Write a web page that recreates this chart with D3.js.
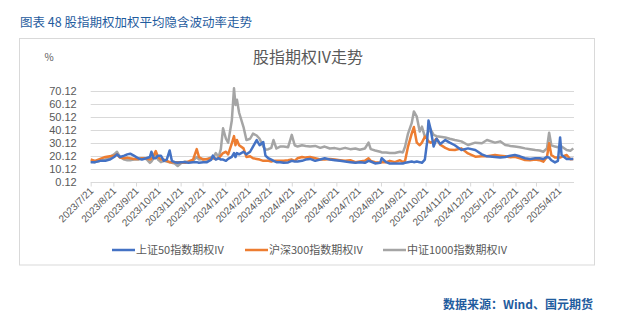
<!DOCTYPE html>
<html><head><meta charset="utf-8">
<script src="https://cdn.jsdelivr.net/npm/d3@7"></script>
<style>
body{margin:0;background:#fff;}
svg{display:block;font-family:"Noto Sans CJK SC","Microsoft YaHei",sans-serif;}
</style></head>
<body><svg id="c" width="633" height="336"></svg>
<script>
const dates = ["2023-07-21","2023-07-27","2023-08-03","2023-08-10","2023-08-16","2023-08-22","2023-08-26","2023-08-30","2023-09-05","2023-09-09","2023-09-13","2023-09-18","2023-09-24","2023-09-29","2023-10-05","2023-10-10","2023-10-12","2023-10-15","2023-10-18","2023-10-21","2023-10-25","2023-10-29","2023-11-02","2023-11-06","2023-11-09","2023-11-13","2023-11-17","2023-11-21","2023-11-27","2023-12-02","2023-12-08","2023-12-13","2023-12-16","2023-12-22","2023-12-27","2024-01-02","2024-01-04","2024-01-08","2024-01-12","2024-01-15","2024-01-18","2024-01-22","2024-01-25","2024-01-30","2024-02-02","2024-02-04","2024-02-06","2024-02-09","2024-02-15","2024-02-19","2024-02-24","2024-02-28","2024-03-04","2024-03-08","2024-03-13","2024-03-16","2024-03-20","2024-03-24","2024-03-27","2024-03-31","2024-04-05","2024-04-10","2024-04-16","2024-04-21","2024-04-25","2024-04-29","2024-05-05","2024-05-10","2024-05-16","2024-05-23","2024-05-30","2024-06-05","2024-06-12","2024-06-19","2024-06-26","2024-07-03","2024-07-10","2024-07-17","2024-07-23","2024-07-30","2024-08-04","2024-08-07","2024-08-13","2024-08-20","2024-08-22","2024-08-28","2024-09-02","2024-09-09","2024-09-16","2024-09-20","2024-09-23","2024-09-27","2024-10-02","2024-10-05","2024-10-09","2024-10-13","2024-10-16","2024-10-20","2024-10-23","2024-10-25","2024-10-28","2024-11-01","2024-11-05","2024-11-10","2024-11-17","2024-11-23","2024-11-30","2024-12-09","2024-12-18","2024-12-28","2025-01-06","2025-01-13","2025-01-24","2025-01-31","2025-02-07","2025-02-14","2025-02-20","2025-02-27","2025-03-06","2025-03-13","2025-03-20","2025-03-26","2025-03-31","2025-04-05","2025-04-08","2025-04-11","2025-04-16","2025-04-20","2025-04-23","2025-04-25","2025-05-02","2025-05-07","2025-05-11"];
const sz50 = [15,15,16,16,17,19,21,19,20,21,21.5,20,18,17,18,19,23,18,18,20,20,16,17,24,16,15,14.5,15,15,14.5,15,15,14.5,15,15,17,20,17,18,17,17,16,17.5,19,22,19,22,21,23,21,23,27,32,28,30.5,20,18,17,16,15,15,14.5,14.8,16,15.5,15.5,16,17,17.5,16,17,18,17,16.5,16,15.5,15,14.5,15,14.5,16,15.5,14,14.5,18,15,14,14,14,14,14.5,15,15.5,15,15.5,15,14.5,17,30,47,40,27,33,29,32,30,28,24.3,25.6,24.3,21,19.5,19,18.5,19,20,20.5,19.5,18,17.5,18,18,17.4,19,18.5,16.5,14.8,16,34,20.5,17.4,17.4,17.4];
const hs300 = [17,16,17.5,19,19.5,20,21,18.5,18,18.5,18,17.5,17.5,18,18,17,17.5,20,23.5,19,17,17,16,15,15,15,15,15,14.5,15.5,17,25,19,17,17.5,18,18,17.5,18,20,22,23,21,29.5,35,28,32,28,25.6,19,19.5,18,17.5,17,16,16,16,15.5,16,16,16,16,16.5,17,16,18,19,18.5,19,18,17,17,17.5,17,16.5,16,16.5,15,15.5,16,18,16,15,14.5,15,15,16,15,16.5,15,16,27,37,42,30,28,30,34.6,33,31,30,31,33,28.5,26,24.5,24.3,25.6,21.7,19.2,19.5,19.5,20.5,20,19.5,18.8,19.2,18,16.7,16.5,17,16.5,15.4,19,29.5,20.5,18.5,18.5,18.5,19,20.5,17.2,17.4];
const zz1000 = [15.5,15,16,17,19,21,23,19,17,16.5,16.5,17,17,18,17.5,14.5,15.5,18,21.5,17,15,16,15.5,15,14.5,14,12,14,15.5,15,16,19,17,17.5,17,19,18,22,19,25,41,33,30,47,71.8,59,63,53,42,32,33,37,35.5,33,27,24.5,25,26,32,25.5,27,27,26.5,36,28,27,28,27.5,27,27.5,26,27,25.5,25.8,25,26,25,25.5,24.5,25.5,30,25,24,23,22.5,22.5,22,22,23,22.5,27,37,45,54,50,38.5,42.3,34.6,36,38.5,40,36,35,34.6,34,33,32,31,28.2,30,29.5,32,30,31,28.2,27.5,27,26.5,25.6,25,24.3,24,23,25.6,37.7,28,27,26.5,27,27,24.3,23.7,25.6];
const yTicks = [0.12,10.12,20.12,30.12,40.12,50.12,60.12,70.12];
const xTickLabels = ["2023/7/21","2023/8/21","2023/9/21","2023/10/21","2023/11/21","2023/12/21","2024/1/21","2024/2/21","2024/3/21","2024/4/21","2024/5/21","2024/6/21","2024/7/21","2024/8/21","2024/9/21","2024/10/21","2024/11/21","2024/12/21","2025/1/21","2025/2/21","2025/3/21","2025/4/21"];
const seriesNames = ["上证50指数期权IV","沪深300指数期权IV","中证1000指数期权IV"];
const colors = ["#4472C4","#ED7D31","#A5A5A5"];

const svg = d3.select("#c");
const parse = d3.timeParse("%Y-%m-%d");
const parseTick = d3.timeParse("%Y/%m/%d");
const L = 90.7, R = 574, T = 90.5, B = 181.5;
const x = d3.scaleTime().domain([parse("2023-07-21"), parse("2025-05-12")]).range([L, R]);
const y = d3.scaleLinear().domain([0.12, 70.12]).range([B, T]);

// outer frame
svg.append("rect").attr("x",19.5).attr("y",38.5).attr("width",575).attr("height",226.5)
  .attr("fill","none").attr("stroke","#d9d9d9");

svg.append("text").attr("x",20).attr("y",27).attr("font-size",12.5).attr("fill","#1f5c9e")
  .text("图表 48  股指期权加权平均隐含波动率走势");

svg.append("text").attr("x",308).attr("y",63).attr("text-anchor","middle").attr("font-size",16)
  .attr("fill","#595959").text("股指期权IV走势");
svg.append("text").attr("x",49).attr("y",61).attr("text-anchor","middle").attr("font-size",10)
  .attr("fill","#595959").text("%");

// gridlines
svg.append("g").selectAll("line").data(yTicks.slice(1)).join("line")
  .attr("x1",L).attr("x2",R).attr("y1",d=>Math.round(y(d))+0.5).attr("y2",d=>Math.round(y(d))+0.5)
  .attr("stroke","#d9d9d9").attr("stroke-width",1);

// y axis labels
const yAxis = d3.axisLeft(y).tickValues(yTicks).tickFormat(d3.format(".2f")).tickSize(0).tickPadding(14);
const gy = svg.append("g").attr("transform",`translate(${L},0)`).call(yAxis);
gy.select(".domain").remove();
gy.selectAll("text").attr("font-size",11).attr("fill","#595959").attr("font-family","Liberation Sans, Arial, sans-serif");

// x axis
const tickDates = xTickLabels.map(parseTick);
const xAxis = d3.axisBottom(x).tickValues(tickDates).tickFormat((d,i)=>xTickLabels[i]).tickSize(4).tickSizeOuter(0);
const gx = svg.append("g").attr("transform",`translate(0,${Math.round(B)+0.5})`).call(xAxis);
gx.select(".domain").attr("stroke","#d9d9d9").attr("d",`M${L},0H${R}`);
gx.selectAll(".tick line").attr("stroke","#d9d9d9");
gx.selectAll("text").attr("font-size",10).attr("fill","#595959")
  .attr("text-anchor","end").attr("dy",0).attr("y",0)
  .attr("transform","translate(3,9) rotate(-45)");

// lines
const data = dates.map((d,i)=>({date:parse(d), v:[sz50[i],hs300[i],zz1000[i]]}));
const order = [2,1,0];
order.forEach(k=>{
  const line = d3.line().x(d=>x(d.date)).y(d=>y(d.v[k]));
  svg.append("path").datum(data).attr("d",line).attr("fill","none")
    .attr("stroke",colors[k]).attr("stroke-width",2.5).attr("stroke-linejoin","round");
});

// legend
const legX = [112,245,383];
seriesNames.forEach((n,i)=>{
  svg.append("line").attr("x1",legX[i]).attr("x2",legX[i]+23).attr("y1",250).attr("y2",250)
    .attr("stroke",colors[i]).attr("stroke-width",2.5);
  svg.append("text").attr("x",legX[i]+24).attr("y",254).attr("font-size",11).attr("fill","#595959").text(n);
});

svg.append("text").attr("x",593).attr("y",309).attr("text-anchor","end").attr("font-size",12)
  .attr("font-weight","bold").attr("fill","#1f5c9e").text("数据来源：Wind、国元期货");
</script></body></html>
